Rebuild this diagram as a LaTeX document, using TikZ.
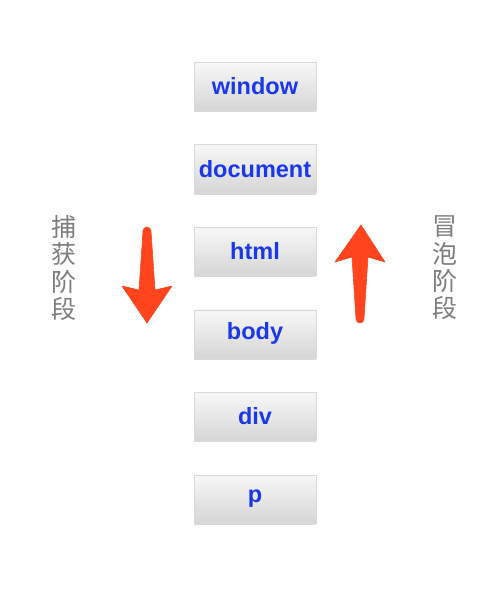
\documentclass[tikz,border=0pt]{standalone}
\usepackage{fontspec}
\setmainfont{Liberation Sans}
\newfontfamily\cjk{Noto Sans CJK SC}
\usepackage{tikz}
\usetikzlibrary{positioning, shadows}

\definecolor{tagblue}{RGB}{25,55,235}
\definecolor{arrowred}{RGB}{255,68,30}
\definecolor{phasegray}{RGB}{125,125,125}

\begin{document}
\begin{tikzpicture}[
            x=1pt, y=-1pt,
            node distance=34.3pt, % Gap between boxes
            tagbox/.style={rectangle, minimum width=122pt, minimum height=48pt,
                top color=gray!6, bottom color=gray!32, draw=gray!30, line width=0.3pt,
                drop shadow={shadow xshift=0pt, shadow yshift=-2pt, opacity=0.3},
                text=tagblue, font=\bfseries\fontsize{23.5}{26}\selectfont}, % Element boxes
            phase/.style={align=center, text=phasegray, inner sep=0pt,
                font=\cjk\fontsize{25}{27.3}\selectfont}, % Vertical labels
            bigarrow/.style={fill=arrowred, draw=arrowred, line width=0.6pt, line join=round}
            ]

        \useasboundingbox (0,0) rectangle (500,590);

        % Element chain from top to bottom
        \node[tagbox] (window) at (255,86) {window};
        \node[tagbox, below=of window] (document) {document};
        \node[tagbox, below=of document] (html) {html};
        \node[tagbox, below=of html] (body) {body};
        \node[tagbox, below=of body] (div) {div};
        \node[tagbox, below=of div] (p) {p};

        % Capture phase: arrow pointing down
        \node[phase] (capture) at (64,268) {捕\\获\\阶\\段};
        \draw[bigarrow] (143,231) arc[start angle=180, end angle=360, radius=4]
            -- (155,290) -- (172,286) -- (147,323) -- (122,286) -- (139,290) -- cycle;

        % Bubble phase: arrow pointing up
        \node[phase] (bubble) at (445,268) {冒\\泡\\阶\\段};
        \draw[bigarrow] (356,319) arc[start angle=180, end angle=0, radius=4]
            -- (368,257) -- (385,262) -- (361,225) -- (335,262) -- (352,257) -- cycle;

\end{tikzpicture}
\end{document}
